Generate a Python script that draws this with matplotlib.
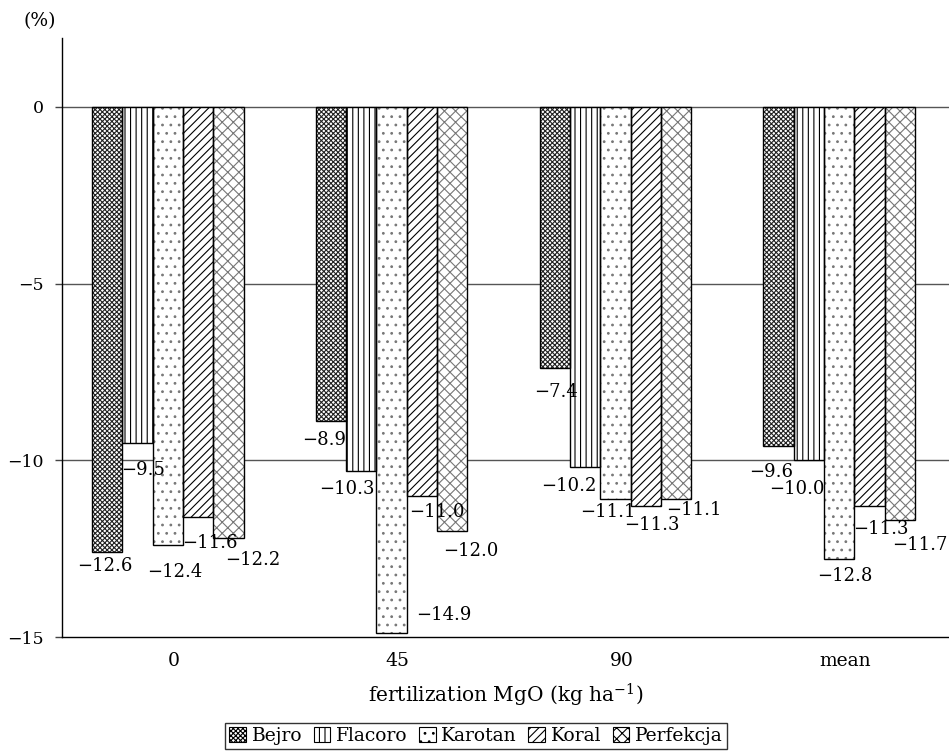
import matplotlib
matplotlib.use("Agg")
import matplotlib.pyplot as plt
from matplotlib.patches import Patch
import numpy as np

plt.rcParams['font.family'] = 'DejaVu Serif'
plt.rcParams['mathtext.fontset'] = 'dejavuserif'
plt.rcParams['hatch.linewidth'] = 0.8

groups = ['0', '45', '90', 'mean']
cultivars = ['Bejro', 'Flacoro', 'Karotan', 'Koral', 'Perfekcja']

bejro = [-12.6, -8.9, -7.4, -9.6]
flacoro = [-9.5, -10.3, -10.2, -10.0]
karotan = [-12.4, -14.9, -11.1, -12.8]
koral = [-11.6, -11.0, -11.3, -11.3]
perfekcja = [-12.2, -12.0, -11.1, -11.7]
series = [bejro, flacoro, karotan, koral, perfekcja]

# hatch style per cultivar: (hatch, hatch colour)
styles = [('xxxxxxx', '#222222'), ('|||', 'black'), ('..', '#777777'),
          ('////', 'black'), ('xxx', '#777777')]

# label offsets in px from (bar centre, bar bottom), +dy = downwards
label_off = [
    [(-2, 14), (-7, 19), (1, 24), (-7, 26)],
    [(6, 27), (-14, 18), (-16, 19), (-12, 29)],
    [(7, 27), (52, -18), (-7, 13), (6, 17)],
    [(12, 26), (15, 16), (6, 19), (11, 23)],
    [(24, 22), (19, 20), (18, 11), (20, 25)],
]

fs = 13.5

fig = plt.figure(figsize=(9.49, 7.55), dpi=100)
ax = fig.add_axes([62 / 949, 118 / 755, 887 / 949, 599 / 755])

x = np.arange(len(groups))
w = 0.1355
shift = -0.027
for i, (vals, (h, hc)) in enumerate(zip(series, styles)):
    pos = x + shift + (i - 2) * w
    ax.bar(pos, vals, w, color='white', edgecolor=hc, hatch=h, linewidth=0, zorder=2)
    ax.bar(pos, vals, w, color='none', edgecolor='black', linewidth=1.0, zorder=3)
    for j, v in enumerate(vals):
        dx, dy = label_off[i][j]
        ax.annotate(f'{v:.1f}'.replace('-', '\u2212'), xy=(pos[j], v),
                    xytext=(dx * 0.72, -dy * 0.72), textcoords='offset points',
                    ha='center', va='center', fontsize=13, zorder=4)

ax.set_xlim(-0.5, 3.464)
ax.set_ylim(-15, 1.95)
ax.set_yticks([0, -5, -10, -15])
ax.set_yticklabels(['0', '\u22125', '\u221210', '\u221215'])
ax.set_xticks(x)
ax.set_xticklabels(groups)
ax.tick_params(axis='x', length=0, pad=11, labelsize=fs)
ax.tick_params(axis='y', length=5, width=1, color='#444444', pad=8, labelsize=12.5)
for yv in [0, -5, -10]:
    ax.axhline(yv, color='#555555', linewidth=1.0, zorder=1)
ax.spines['top'].set_visible(False)
ax.spines['right'].set_visible(False)
ax.spines['left'].set_linewidth(1.0)
ax.spines['bottom'].set_linewidth(1.0)

ax.set_xlabel(r'fertilization MgO (kg ha$^{-1}$)', fontsize=14.5, labelpad=8)
fig.text(40 / 949, 1 - 21 / 755, '(%)', ha='center', va='center', fontsize=fs)

handles = [Patch(facecolor='white', edgecolor='black', hatch=h, linewidth=0.8)
           for h, _ in styles]
leg = fig.legend(handles, cultivars, ncol=5, loc='center',
                 bbox_to_anchor=(476 / 949, 1 - 736 / 755), fontsize=fs,
                 frameon=True, fancybox=False, edgecolor='black',
                 handlelength=0.9, handleheight=0.9, handletextpad=0.3,
                 columnspacing=0.6, borderpad=0.2, borderaxespad=0)
leg.get_frame().set_linewidth(1.0)

fig.savefig('out.png', dpi=100)
